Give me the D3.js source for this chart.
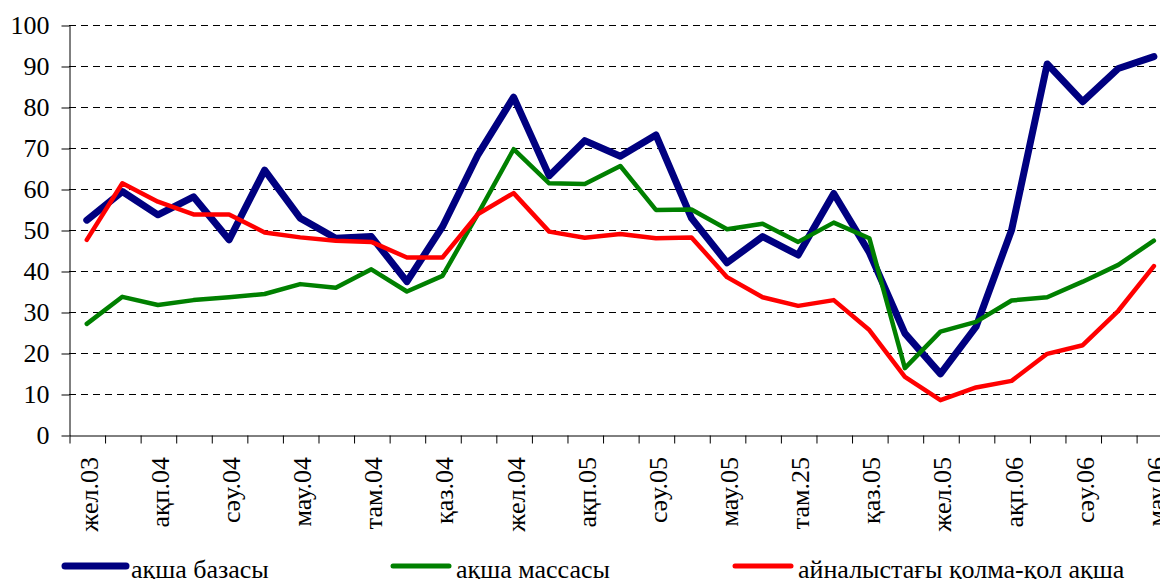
<!DOCTYPE html>
<html lang="kk">
<head>
	<meta charset="UTF-8">
	<title>ақша базасы, ақша массасы</title>
	<script src="https://cdn.jsdelivr.net/npm/d3@7"></script>

	<style type="text/css">
		body {
			margin: 0;
			background: #fff;
		}

		svg text {
			font-family: "Liberation Serif", "Times New Roman", serif;
			font-size: 26px;
			fill: #000;
		}

		.grid line {
			stroke: #000;
			stroke-width: 1;
			stroke-dasharray: 7, 5;
		}

		.series {
			fill: none;
			stroke-linejoin: round;
			stroke-linecap: round;
		}
	</style>

</head>
<body>

<script type="text/javascript">
	// months Dec 2003 .. Jun 2006 (every second one is labelled on the axis)
	var months = ['жел.03', 'қаң.04', 'ақп.04', 'нау.04', 'сәу.04', 'мам.04', 'мау.04', 'шіл.04',
		'там.04', 'қыр.04', 'қаз.04', 'қар.04', 'жел.04', 'қаң.05', 'ақп.05', 'нау.05', 'сәу.05',
		'мам.05', 'мау.05', 'шіл.05', 'там.25', 'қыр.05', 'қаз.05', 'қар.05', 'жел.05', 'қаң.06',
		'ақп.06', 'нау.06', 'сәу.06', 'мам.06', 'мау.06'];

	var yTicks = [0, 10, 20, 30, 40, 50, 60, 70, 80, 90, 100];

	var seriesNames = ['ақша базасы', 'ақша массасы', 'айналыстағы қолма-қол ақша'];

	var base = [52.4, 59.4, 53.7, 58.1, 47.6, 64.6, 52.9, 48.0, 48.4, 37.4, 50.8, 68.4, 82.4, 63.2,
		71.8, 68.0, 73.2, 52.9, 42.0, 48.4, 43.9, 58.9, 44.5, 24.8, 14.9, 26.4, 50.0, 90.5, 81.3,
		89.4, 92.3];

	var money = [27.1, 33.7, 31.7, 32.9, 33.6, 34.4, 36.8, 35.9, 40.4, 35.0, 38.8, 54.0, 69.7, 61.4,
		61.2, 65.6, 54.9, 55.0, 50.2, 51.5, 47.1, 51.8, 48.0, 16.3, 25.2, 27.6, 32.8, 33.6, 37.4,
		41.5, 47.4];

	var cash = [47.6, 61.4, 56.9, 53.8, 53.8, 49.4, 48.2, 47.4, 47.1, 43.3, 43.3, 53.9, 59.0, 49.6,
		48.1, 49.0, 48.0, 48.2, 38.5, 33.6, 31.5, 32.9, 25.6, 14.2, 8.5, 11.6, 13.2, 19.8, 21.9,
		30.3, 41.2];

	var colors = ['#000080', '#008000', '#ff0000'];
	var widths = [7, 4.5, 4.5];

	window.onload = function () {

		var W = 1160, H = 579;
		var left = 69, top = 25, bottom = 435;
		var step = 35.57;
		var right = left + months.length * step; // runs past the window edge, as in the original

		var svg = d3.select('body').append('svg')
			.attr('width', W)
			.attr('height', H);

		var y = d3.scaleLinear().domain([0, 100]).range([bottom, top]);

		var x = d3.scaleBand().domain(months).range([left, right]).padding(0);
		var xEdge = d3.scaleLinear().domain([0, months.length]).range([left, right]);

		function cx(m) {
			return x(m) + x.bandwidth() / 2;
		}

		// dashed gridlines
		svg.append('g')
			.attr('class', 'grid')
			.selectAll('line')
			.data(yTicks.filter(function (d) { return d > 0; }))
			.enter().append('line')
			.attr('x1', left)
			.attr('x2', W)
			.attr('y1', function (d) { return Math.round(y(d)) + 0.5; })
			.attr('y2', function (d) { return Math.round(y(d)) + 0.5; });

		// y axis
		var yAxis = svg.append('g')
			.attr('transform', 'translate(' + (left + 0.5) + ',0.5)')
			.call(d3.axisLeft(y).tickValues(yTicks).tickSize(8).tickSizeOuter(0).tickPadding(12));
		yAxis.selectAll('text').style('font-size', '26px').style('font-family', '"Liberation Serif", serif');
		yAxis.selectAll('line, path').attr('stroke', '#000');

		// x axis (ticks between categories)
		var xAxis = svg.append('g')
			.attr('transform', 'translate(0.5,' + (bottom + 0.5) + ')')
			.call(d3.axisBottom(xEdge).tickValues(d3.range(0, months.length + 1)).tickSize(8)
				.tickSizeOuter(0).tickFormat(''));
		xAxis.selectAll('line, path').attr('stroke', '#000');

		svg.append('g')
			.selectAll('text')
			.data(months.filter(function (d, i) { return i % 2 === 0; }))
			.enter().append('text')
			.attr('transform', function (d) {
				return 'translate(' + cx(d) + ',457) rotate(-90)';
			})
			.attr('dy', '0.42em')
			.attr('text-anchor', 'end')
			.text(function (d) { return d; });

		// series
		var line = d3.line()
			.x(function (d, i) { return cx(months[i]); })
			.y(function (d) { return y(d); });

		[base, money, cash].forEach(function (s, k) {
			svg.append('path')
				.datum(s)
				.attr('class', 'series')
				.attr('stroke', colors[k])
				.attr('stroke-width', widths[k])
				.attr('d', line);
		});

		// legend
		var legendX = [65, 393, 735];
		var leg = svg.append('g')
			.selectAll('g')
			.data(seriesNames)
			.enter().append('g')
			.attr('transform', function (d, i) { return 'translate(' + legendX[i] + ',566)'; });

		leg.append('line')
			.attr('x1', 0)
			.attr('x2', function (d, i) { return i === 0 ? 61 : 56; })
			.attr('stroke', function (d, i) { return colors[i]; })
			.attr('stroke-width', function (d, i) { return i === 0 ? 7 : 5; })
			.attr('stroke-linecap', 'round');

		leg.append('text')
			.attr('x', function (d, i) { return i === 0 ? 66 : 63; })
			.attr('y', 12)
			.text(function (d) { return d; });
	};
</script>

</body>
</html>
